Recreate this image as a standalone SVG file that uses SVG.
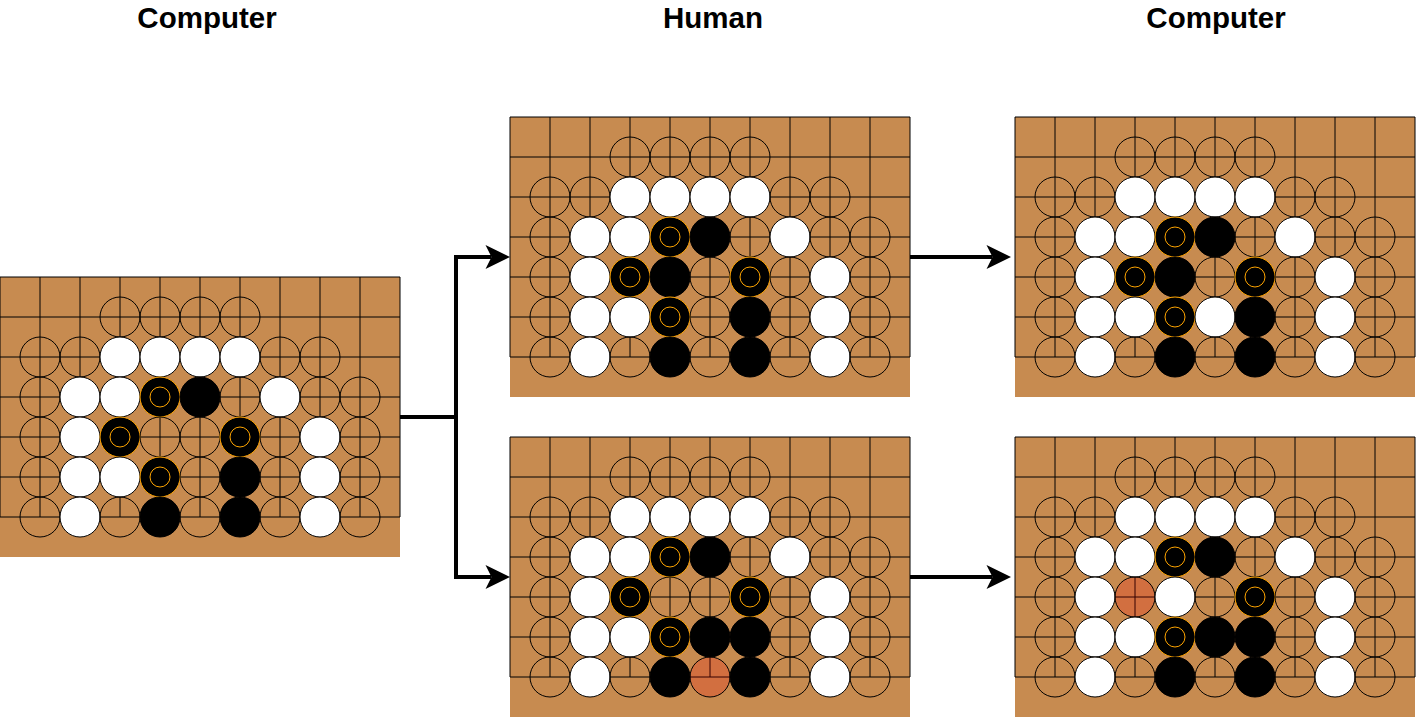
<svg xmlns="http://www.w3.org/2000/svg" xmlns:xlink="http://www.w3.org/1999/xlink" width="1417" height="718" viewBox="0 0 1417 718">
<style>
.bg{fill:#C78B50;stroke:none}
.grid{fill:none;stroke:#000;stroke-width:1}
.e{fill:none;stroke:#000;stroke-width:1}
.w{fill:#fff;stroke:#000;stroke-width:1}
.b{fill:#000;stroke:#000;stroke-width:1}
.mo{fill:#000;stroke:#FFA500;stroke-width:1}
.mi{fill:none;stroke:#FFA500;stroke-width:1}
.r{fill:#FF0000;fill-opacity:0.2;stroke:#000;stroke-width:1}
.title{font-family:"Liberation Sans",Arial,sans-serif;font-weight:bold;font-size:29.5px;fill:#000;text-anchor:middle}
.conn{fill:none;stroke:#000;stroke-width:4}
</style>
<defs>
<marker id="arr" markerUnits="userSpaceOnUse" markerWidth="30" markerHeight="30" viewBox="-8 -14 30 28" refX="0" refY="0" orient="auto">
<path d="M18.5,0 L-6,-12 L0,0 L-6,12 Z" fill="#000"/>
</marker>
<rect id="bgR" class="bg" width="400" height="280"/>
<path id="gridP" class="grid" d="M0,0H400V240H0Z M40,0V240 M80,0V240 M120,0V240 M160,0V240 M200,0V240 M240,0V240 M280,0V240 M320,0V240 M360,0V240 M0,40H400 M0,80H400 M0,120H400 M0,160H400 M0,200H400"/>
<circle id="e" class="e" r="20"/>
<circle id="w" class="w" r="20"/>
<circle id="b" class="b" r="20"/>
<circle id="r" class="r" r="20"/>
<g id="m"><circle class="mo" r="20"/><circle class="mi" r="10"/></g>
</defs>

<g id="titles">
<text class="title" x="207" y="27.5">Computer</text>
<text class="title" x="713" y="27.5">Human</text>
<text class="title" x="1216" y="27.5">Computer</text>
</g>

<g id="board1" transform="translate(0,277)">
<use href="#bgR"/><use href="#gridP"/>
<use href="#e" x="120" y="40"/><use href="#e" x="160" y="40"/><use href="#e" x="200" y="40"/><use href="#e" x="240" y="40"/>
<use href="#e" x="40" y="80"/><use href="#e" x="80" y="80"/><use href="#w" x="120" y="80"/><use href="#w" x="160" y="80"/><use href="#w" x="200" y="80"/><use href="#w" x="240" y="80"/><use href="#e" x="280" y="80"/><use href="#e" x="320" y="80"/>
<use href="#e" x="40" y="120"/><use href="#w" x="80" y="120"/><use href="#w" x="120" y="120"/><use href="#m" x="160" y="120"/><use href="#b" x="200" y="120"/><use href="#e" x="240" y="120"/><use href="#w" x="280" y="120"/><use href="#e" x="320" y="120"/><use href="#e" x="360" y="120"/>
<use href="#e" x="40" y="160"/><use href="#w" x="80" y="160"/><use href="#m" x="120" y="160"/><use href="#e" x="160" y="160"/><use href="#e" x="200" y="160"/><use href="#m" x="240" y="160"/><use href="#e" x="280" y="160"/><use href="#w" x="320" y="160"/><use href="#e" x="360" y="160"/>
<use href="#e" x="40" y="200"/><use href="#w" x="80" y="200"/><use href="#w" x="120" y="200"/><use href="#m" x="160" y="200"/><use href="#e" x="200" y="200"/><use href="#b" x="240" y="200"/><use href="#e" x="280" y="200"/><use href="#w" x="320" y="200"/><use href="#e" x="360" y="200"/>
<use href="#e" x="40" y="240"/><use href="#w" x="80" y="240"/><use href="#e" x="120" y="240"/><use href="#b" x="160" y="240"/><use href="#e" x="200" y="240"/><use href="#b" x="240" y="240"/><use href="#e" x="280" y="240"/><use href="#w" x="320" y="240"/><use href="#e" x="360" y="240"/>
</g>

<g id="board2" transform="translate(510,117)">
<use href="#bgR"/><use href="#gridP"/>
<use href="#e" x="120" y="40"/><use href="#e" x="160" y="40"/><use href="#e" x="200" y="40"/><use href="#e" x="240" y="40"/>
<use href="#e" x="40" y="80"/><use href="#e" x="80" y="80"/><use href="#w" x="120" y="80"/><use href="#w" x="160" y="80"/><use href="#w" x="200" y="80"/><use href="#w" x="240" y="80"/><use href="#e" x="280" y="80"/><use href="#e" x="320" y="80"/>
<use href="#e" x="40" y="120"/><use href="#w" x="80" y="120"/><use href="#w" x="120" y="120"/><use href="#m" x="160" y="120"/><use href="#b" x="200" y="120"/><use href="#e" x="240" y="120"/><use href="#w" x="280" y="120"/><use href="#e" x="320" y="120"/><use href="#e" x="360" y="120"/>
<use href="#e" x="40" y="160"/><use href="#w" x="80" y="160"/><use href="#m" x="120" y="160"/><use href="#b" x="160" y="160"/><use href="#e" x="200" y="160"/><use href="#m" x="240" y="160"/><use href="#e" x="280" y="160"/><use href="#w" x="320" y="160"/><use href="#e" x="360" y="160"/>
<use href="#e" x="40" y="200"/><use href="#w" x="80" y="200"/><use href="#w" x="120" y="200"/><use href="#m" x="160" y="200"/><use href="#e" x="200" y="200"/><use href="#b" x="240" y="200"/><use href="#e" x="280" y="200"/><use href="#w" x="320" y="200"/><use href="#e" x="360" y="200"/>
<use href="#e" x="40" y="240"/><use href="#w" x="80" y="240"/><use href="#e" x="120" y="240"/><use href="#b" x="160" y="240"/><use href="#e" x="200" y="240"/><use href="#b" x="240" y="240"/><use href="#e" x="280" y="240"/><use href="#w" x="320" y="240"/><use href="#e" x="360" y="240"/>
</g>

<g id="board3" transform="translate(510,437)">
<use href="#bgR"/><use href="#gridP"/>
<use href="#e" x="120" y="40"/><use href="#e" x="160" y="40"/><use href="#e" x="200" y="40"/><use href="#e" x="240" y="40"/>
<use href="#e" x="40" y="80"/><use href="#e" x="80" y="80"/><use href="#w" x="120" y="80"/><use href="#w" x="160" y="80"/><use href="#w" x="200" y="80"/><use href="#w" x="240" y="80"/><use href="#e" x="280" y="80"/><use href="#e" x="320" y="80"/>
<use href="#e" x="40" y="120"/><use href="#w" x="80" y="120"/><use href="#w" x="120" y="120"/><use href="#m" x="160" y="120"/><use href="#b" x="200" y="120"/><use href="#e" x="240" y="120"/><use href="#w" x="280" y="120"/><use href="#e" x="320" y="120"/><use href="#e" x="360" y="120"/>
<use href="#e" x="40" y="160"/><use href="#w" x="80" y="160"/><use href="#m" x="120" y="160"/><use href="#e" x="160" y="160"/><use href="#e" x="200" y="160"/><use href="#m" x="240" y="160"/><use href="#e" x="280" y="160"/><use href="#w" x="320" y="160"/><use href="#e" x="360" y="160"/>
<use href="#e" x="40" y="200"/><use href="#w" x="80" y="200"/><use href="#w" x="120" y="200"/><use href="#m" x="160" y="200"/><use href="#b" x="200" y="200"/><use href="#b" x="240" y="200"/><use href="#e" x="280" y="200"/><use href="#w" x="320" y="200"/><use href="#e" x="360" y="200"/>
<use href="#e" x="40" y="240"/><use href="#w" x="80" y="240"/><use href="#e" x="120" y="240"/><use href="#b" x="160" y="240"/><use href="#r" x="200" y="240"/><use href="#b" x="240" y="240"/><use href="#e" x="280" y="240"/><use href="#w" x="320" y="240"/><use href="#e" x="360" y="240"/>
</g>

<g id="board4" transform="translate(1015,117)">
<use href="#bgR"/><use href="#gridP"/>
<use href="#e" x="120" y="40"/><use href="#e" x="160" y="40"/><use href="#e" x="200" y="40"/><use href="#e" x="240" y="40"/>
<use href="#e" x="40" y="80"/><use href="#e" x="80" y="80"/><use href="#w" x="120" y="80"/><use href="#w" x="160" y="80"/><use href="#w" x="200" y="80"/><use href="#w" x="240" y="80"/><use href="#e" x="280" y="80"/><use href="#e" x="320" y="80"/>
<use href="#e" x="40" y="120"/><use href="#w" x="80" y="120"/><use href="#w" x="120" y="120"/><use href="#m" x="160" y="120"/><use href="#b" x="200" y="120"/><use href="#e" x="240" y="120"/><use href="#w" x="280" y="120"/><use href="#e" x="320" y="120"/><use href="#e" x="360" y="120"/>
<use href="#e" x="40" y="160"/><use href="#w" x="80" y="160"/><use href="#m" x="120" y="160"/><use href="#b" x="160" y="160"/><use href="#e" x="200" y="160"/><use href="#m" x="240" y="160"/><use href="#e" x="280" y="160"/><use href="#w" x="320" y="160"/><use href="#e" x="360" y="160"/>
<use href="#e" x="40" y="200"/><use href="#w" x="80" y="200"/><use href="#w" x="120" y="200"/><use href="#m" x="160" y="200"/><use href="#w" x="200" y="200"/><use href="#b" x="240" y="200"/><use href="#e" x="280" y="200"/><use href="#w" x="320" y="200"/><use href="#e" x="360" y="200"/>
<use href="#e" x="40" y="240"/><use href="#w" x="80" y="240"/><use href="#e" x="120" y="240"/><use href="#b" x="160" y="240"/><use href="#e" x="200" y="240"/><use href="#b" x="240" y="240"/><use href="#e" x="280" y="240"/><use href="#w" x="320" y="240"/><use href="#e" x="360" y="240"/>
</g>

<g id="board5" transform="translate(1015,437)">
<use href="#bgR"/><use href="#gridP"/>
<use href="#e" x="120" y="40"/><use href="#e" x="160" y="40"/><use href="#e" x="200" y="40"/><use href="#e" x="240" y="40"/>
<use href="#e" x="40" y="80"/><use href="#e" x="80" y="80"/><use href="#w" x="120" y="80"/><use href="#w" x="160" y="80"/><use href="#w" x="200" y="80"/><use href="#w" x="240" y="80"/><use href="#e" x="280" y="80"/><use href="#e" x="320" y="80"/>
<use href="#e" x="40" y="120"/><use href="#w" x="80" y="120"/><use href="#w" x="120" y="120"/><use href="#m" x="160" y="120"/><use href="#b" x="200" y="120"/><use href="#e" x="240" y="120"/><use href="#w" x="280" y="120"/><use href="#e" x="320" y="120"/><use href="#e" x="360" y="120"/>
<use href="#e" x="40" y="160"/><use href="#w" x="80" y="160"/><use href="#r" x="120" y="160"/><use href="#w" x="160" y="160"/><use href="#e" x="200" y="160"/><use href="#m" x="240" y="160"/><use href="#e" x="280" y="160"/><use href="#w" x="320" y="160"/><use href="#e" x="360" y="160"/>
<use href="#e" x="40" y="200"/><use href="#w" x="80" y="200"/><use href="#w" x="120" y="200"/><use href="#m" x="160" y="200"/><use href="#b" x="200" y="200"/><use href="#b" x="240" y="200"/><use href="#e" x="280" y="200"/><use href="#w" x="320" y="200"/><use href="#e" x="360" y="200"/>
<use href="#e" x="40" y="240"/><use href="#w" x="80" y="240"/><use href="#e" x="120" y="240"/><use href="#b" x="160" y="240"/><use href="#e" x="200" y="240"/><use href="#b" x="240" y="240"/><use href="#e" x="280" y="240"/><use href="#w" x="320" y="240"/><use href="#e" x="360" y="240"/>
</g>

<g id="connectors">
<path class="conn" d="M400,417 H456 V257 H491.5" marker-end="url(#arr)"/>
<path class="conn" d="M400,417 H456 V577 H491.5" marker-end="url(#arr)"/>
<path class="conn" d="M910,257 H992.5" marker-end="url(#arr)"/>
<path class="conn" d="M910,577 H992.5" marker-end="url(#arr)"/>
</g>
</svg>
